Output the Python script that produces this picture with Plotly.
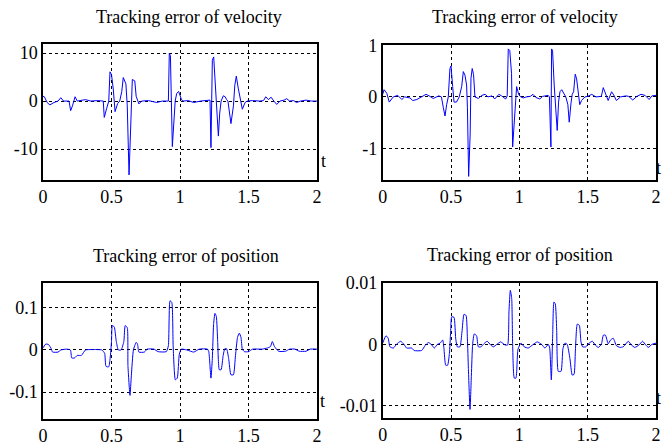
import plotly.graph_objects as go

# ---------------- data ----------------
t_vel1 = [0.00,0.01,0.03,0.05,0.08,0.11,0.13,0.15,0.19,0.202,
          0.215,0.234,0.25,0.28,0.31,0.35,0.40,0.44,0.447,0.465,
          0.48,0.489,0.50,0.513,0.526,0.545,0.56,0.575,0.586,0.605,
          0.615,0.628,0.64,0.652,0.67,0.68,0.70,0.72,0.77,0.83,
          0.87,0.915,0.922,0.93,0.944,0.955,0.965,0.976,0.99,1.01,
          1.02,1.06,1.10,1.15,1.19,1.219,1.226,1.236,1.246,1.255,
          1.265,1.28,1.29,1.30,1.316,1.33,1.34,1.35,1.372,1.39,
          1.40,1.411,1.425,1.44,1.455,1.475,1.49,1.53,1.58,1.61,
          1.626,1.645,1.665,1.685,1.706,1.73,1.76,1.779,1.80,1.83,
          1.85,1.88,1.92,1.96,2.00]
e_vel1 = [1.0,0.9,-0.3,-0.8,-0.3,0.0,0.7,0.0,0.0,-2.0,
          -1.0,0.9,0.0,0.1,0.3,0.0,0.1,0.0,-3.4,-1.5,
          0.0,6.1,5.5,2.5,-2.2,-0.5,0.0,2.0,4.9,3.6,
          -1.0,-15.4,-5.0,4.5,4.2,1.0,-0.6,0.0,0.1,-0.3,
          0.0,0.0,9.9,9.5,-9.5,-5.0,0.0,1.6,2.0,0.4,
          0.0,0.1,-0.3,0.0,0.1,0.2,-9.7,8.5,9.2,5.0,
          0.0,-7.3,-2.5,0.0,1.1,0.9,0.3,0.0,-4.7,-1.0,
          3.3,5.2,2.7,0.3,-1.7,-0.3,0.0,0.1,0.0,0.1,
          0.9,0.3,0.8,0.0,-0.7,0.0,0.2,0.5,0.0,0.1,
          -0.3,0.0,0.2,0.0,0.0]

t_vel2 = [0.00,0.01,0.03,0.048,0.077,0.11,0.14,0.16,0.20,0.22,
          0.25,0.28,0.317,0.34,0.37,0.41,0.43,0.443,0.456,0.468,
          0.48,0.492,0.50,0.512,0.522,0.54,0.56,0.578,0.59,0.602,
          0.614,0.62,0.629,0.64,0.646,0.655,0.665,0.675,0.70,0.725,
          0.75,0.77,0.80,0.82,0.85,0.87,0.90,0.911,0.919,0.93,
          0.943,0.951,0.963,0.98,0.995,1.01,1.03,1.05,1.08,1.10,
          1.12,1.15,1.17,1.211,1.22,1.231,1.236,1.243,1.255,1.265,
          1.277,1.287,1.297,1.31,1.326,1.34,1.355,1.365,1.378,1.387,
          1.397,1.409,1.419,1.43,1.442,1.455,1.48,1.50,1.53,1.56,
          1.60,1.614,1.63,1.65,1.675,1.69,1.71,1.74,1.78,1.80,
          1.83,1.86,1.89,1.92,1.95,1.97,2.00]
e_vel2 = [0.05,0.14,0.07,-0.10,0.00,0.03,-0.05,0.00,-0.02,-0.07,
          -0.05,0.00,0.05,0.02,-0.03,0.02,0.00,-0.20,-0.37,-0.15,
          0.00,0.55,0.60,0.20,-0.10,-0.10,0.00,0.20,0.49,0.42,
          0.23,-0.20,-1.54,-0.72,0.36,0.55,0.43,0.00,-0.03,0.03,
          0.05,0.00,0.02,-0.04,0.05,0.02,-0.04,0.02,0.93,0.90,
          0.45,-0.97,-0.47,0.20,0.05,0.00,-0.02,0.00,0.01,0.05,
          -0.01,-0.04,0.01,0.03,0.00,-0.97,0.93,0.90,0.23,-0.20,
          -0.65,-0.10,0.10,0.14,0.05,0.00,-0.15,-0.49,-0.12,0.05,
          0.10,0.44,0.35,0.05,-0.15,-0.07,0.00,0.01,0.05,0.00,
          0.01,0.18,0.05,-0.07,0.10,0.04,-0.07,0.00,0.02,0.01,
          -0.06,0.01,0.05,0.03,-0.05,0.02,0.03]

t_pos1 = [0.00,0.02,0.04,0.06,0.07,0.11,0.13,0.17,0.20,0.21,
          0.23,0.25,0.28,0.31,0.36,0.43,0.45,0.46,0.48,0.49,
          0.50,0.506,0.52,0.535,0.55,0.57,0.59,0.60,0.615,0.62,
          0.635,0.645,0.66,0.68,0.69,0.70,0.74,0.76,0.81,0.84,
          0.90,0.915,0.927,0.94,0.95,0.966,0.98,0.995,1.01,1.05,
          1.10,1.14,1.20,1.21,1.226,1.236,1.245,1.255,1.265,1.275,
          1.287,1.30,1.315,1.327,1.34,1.355,1.372,1.39,1.405,1.42,
          1.433,1.445,1.455,1.47,1.50,1.53,1.60,1.64,1.66,1.674,
          1.69,1.72,1.77,1.80,1.84,1.87,1.92,1.95,2.00]
e_pos1 = [0.005,0.014,0.013,0.003,-0.005,-0.005,0.000,0.002,0.000,-0.019,
          -0.019,-0.013,-0.013,0.000,0.001,0.000,-0.008,-0.039,-0.040,-0.020,
          0.020,0.058,0.055,0.020,0.000,0.000,0.020,0.058,0.053,-0.037,
          -0.108,-0.060,0.000,0.018,0.014,-0.005,-0.005,0.002,0.002,-0.004,
          -0.004,0.010,0.117,0.113,0.010,-0.071,-0.067,-0.010,0.002,0.000,
          -0.005,0.002,0.002,-0.004,-0.067,-0.020,0.060,0.087,0.080,0.020,
          -0.047,-0.047,-0.013,0.003,0.003,-0.020,-0.059,-0.059,-0.013,0.030,
          0.040,0.030,0.002,-0.004,-0.004,0.002,0.002,0.005,0.008,0.020,
          0.008,-0.003,-0.003,0.002,0.002,-0.003,-0.003,0.002,0.002]

t_pos2 = [0.00,0.024,0.04,0.053,0.078,0.10,0.131,0.156,0.175,0.212,
          0.23,0.285,0.31,0.334,0.355,0.378,0.40,0.42,0.439,0.448,
          0.461,0.475,0.488,0.497,0.505,0.522,0.534,0.546,0.565,0.58,
          0.595,0.61,0.62,0.627,0.639,0.649,0.658,0.67,0.687,0.70,
          0.72,0.74,0.765,0.79,0.81,0.835,0.863,0.895,0.914,0.924,
          0.934,0.944,0.951,0.963,0.975,0.99,1.012,1.036,1.065,1.102,
          1.131,1.163,1.187,1.212,1.222,1.234,1.244,1.253,1.263,1.273,
          1.285,1.305,1.319,1.334,1.35,1.37,1.387,1.40,1.41,1.424,
          1.439,1.451,1.463,1.487,1.51,1.535,1.555,1.578,1.60,1.615,
          1.63,1.65,1.667,1.687,1.71,1.736,1.76,1.797,1.82,1.845,
          1.875,1.902,1.925,1.944,1.97,2.00]
e_pos2 = [0.0002,0.0014,0.001,-0.0004,-0.0006,0.0,0.0005,0.0,-0.0006,-0.0006,
          -0.001,-0.001,-0.0002,0.0003,0.0,-0.0006,0.0,0.0002,0.0007,-0.0006,
          -0.0034,-0.0034,-0.0015,0.002,0.0045,0.0044,0.001,-0.0004,-0.0004,0.002,
          0.0049,0.0047,0.0009,-0.0039,-0.0106,-0.005,0.0,0.0017,0.0014,-0.0004,
          -0.0004,0.0001,0.0005,-0.0001,-0.0004,0.0,0.0004,-0.0001,-0.0001,0.0053,
          0.0088,0.0075,-0.0001,-0.0055,-0.0055,-0.0008,0.0002,-0.0004,-0.0006,0.0,
          0.0004,0.0,-0.0006,0.0,-0.0006,-0.0058,0.0016,0.0069,0.0066,0.0025,
          -0.0044,-0.0044,-0.0007,0.0002,0.0,-0.0023,-0.005,-0.0049,-0.0011,0.0033,
          0.0031,0.0004,-0.0004,-0.0004,0.0002,0.0005,-0.0001,-0.0005,0.0,0.0015,
          0.0015,0.0001,0.0007,0.001,-0.0002,-0.0005,-0.0004,0.0005,-0.0001,-0.0005,
          -0.0001,0.0005,-0.0001,-0.0005,0.0,0.0002]

x_ticks = [0, 0.5, 1, 1.5, 2]
x_ticktext = ["0", "0.5", "1", "1.5", "2"]
titles = ["Tracking error of velocity", "Tracking error of velocity",
          "Tracking error of position", "Tracking error of position"]
y_ticks = [[-10, 0, 10], [-1, 0, 1], [-0.1, 0, 0.1], [-0.01, 0, 0.01]]
y_ticktext = [["-10", "0", "10"], ["-1", "0", "1"], ["-0.1", "0", "0.1"], ["-0.01", "0", "0.01"]]
y_ranges = [[-16.35, 12.0], [-1.6, 1.0], [-0.163, 0.160], [-0.012, 0.01]]

# ---------------- layout geometry (pixels) ----------------
W, H = 662, 447
boxes = [  # left, right, top, bottom
    (43, 317, 43.5, 179.5),
    (382.7, 656, 45.3, 179.5),
    (43, 317, 282.7, 418.5),
    (382.7, 656, 283, 418),
]
title_pos = [(189, 17), (525, 17), (186, 256), (520, 255)]
# (x, y, anchor)
t_pos = [(323, 161, "center"), (662, 168, "right"), (322, 401, "center"), (662, 398, "right")]

FONT = "Liberation Serif, Times New Roman, serif"

series = [(t_vel1, e_vel1, "linear"), (t_vel2, e_vel2, "linear"),
          (t_pos1, e_pos1, "spline"), (t_pos2, e_pos2, "spline")]

fig = go.Figure()
layout = dict(
    template="none",
    width=W, height=H,
    margin=dict(l=0, r=0, t=0, b=0, pad=0),
    paper_bgcolor="white", plot_bgcolor="white",
    showlegend=False,
    font=dict(family=FONT, size=18, color="black"),
)
annotations = []
for i, ((tx, ey, shape), (l, r, tp, bt)) in enumerate(zip(series, boxes)):
    n = "" if i == 0 else str(i + 1)
    fig.add_trace(go.Scatter(
        x=tx, y=ey, mode="lines",
        line=dict(color="#0000ff", width=1, shape=shape, smoothing=0.5),
        xaxis="x" + n, yaxis="y" + n, hoverinfo="skip"))
    common = dict(showline=True, mirror=True, linecolor="black", linewidth=1.5,
                  showgrid=True, gridcolor="black", griddash="dot", gridwidth=1,
                  zeroline=False, ticks="", automargin=False,
                  tickfont=dict(family=FONT, size=18, color="black"))
    layout["xaxis" + n] = dict(
        domain=[l / W, r / W], range=[0, 2], anchor="y" + n,
        tickmode="array", tickvals=x_ticks, ticktext=x_ticktext, **common)
    layout["yaxis" + n] = dict(
        domain=[1 - bt / H, 1 - tp / H], range=y_ranges[i], anchor="x" + n,
        tickmode="array", tickvals=y_ticks[i], ticktext=y_ticktext[i], **common)
    cx, cy = title_pos[i]
    annotations.append(dict(text=titles[i], x=cx / W, y=1 - cy / H,
                            xref="paper", yref="paper", showarrow=False,
                            xanchor="center", yanchor="middle",
                            font=dict(family=FONT, size=18, color="black")))
    lx, ly, anc = t_pos[i]
    annotations.append(dict(text="t", x=lx / W, y=1 - ly / H,
                            xref="paper", yref="paper", showarrow=False,
                            xanchor=anc, yanchor="middle", borderpad=0,
                            font=dict(family=FONT, size=18, color="black")))
layout["annotations"] = annotations
fig.update_layout(**layout)
fig.write_html("out.html")
